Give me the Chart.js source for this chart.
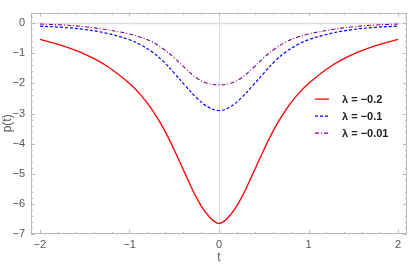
<!DOCTYPE html>
<html lang="en">
<head>
    <meta charset="UTF-8">
    <title>p(t)</title>
    <script src="https://cdnjs.cloudflare.com/ajax/libs/Chart.js/4.4.0/chart.umd.min.js"></script>
    <style>
        html, body {
            margin: 0;
            padding: 0;
            background-color: #fff;
        }
        .wrap {
            width: 409px;
            height: 265px;
        }
    </style>
</head>
<body>
    <div class="wrap"><canvas id="chart" width="409" height="265"></canvas></div>

    <script>
        // sample times
        const tValues = [-2, -1.75, -1.5, -1.25, -1, -0.875, -0.75, -0.625, -0.5, -0.375, -0.25, -0.125, 0,
                         0.125, 0.25, 0.375, 0.5, 0.625, 0.75, 0.875, 1, 1.25, 1.5, 1.75, 2];

        // p(t), one array per lambda
        const pLam02 = [-0.54, -0.75, -1.03, -1.43, -2.00, -2.38, -2.86, -3.47, -4.21, -5.02, -5.80, -6.37, -6.65,
                        -6.37, -5.80, -5.02, -4.21, -3.47, -2.86, -2.38, -2.00, -1.43, -1.03, -0.75, -0.54];
        const pLam01 = [-0.10, -0.14, -0.21, -0.34, -0.55, -0.72, -0.95, -1.26, -1.66, -2.08, -2.48, -2.78, -2.90,
                        -2.78, -2.48, -2.08, -1.66, -1.26, -0.95, -0.72, -0.55, -0.34, -0.21, -0.14, -0.10];
        const pLam001 = [-0.03, -0.06, -0.12, -0.22, -0.36, -0.47, -0.62, -0.85, -1.15, -1.50, -1.82, -2.00, -2.05,
                         -2.00, -1.82, -1.50, -1.15, -0.85, -0.62, -0.47, -0.36, -0.22, -0.12, -0.06, -0.03];

        const seriesLabels = ['λ = −0.2', 'λ = −0.1', 'λ = −0.01'];

        const xTicks = [-2, -1, 0, 1, 2];
        const yTicks = [-7, -6, -5, -4, -3, -2, -1, 0];

        const FRAME_COLOR = '#b8b8b8';
        const LABEL_COLOR = '#555';
        const FONT = '"Liberation Sans", Arial, sans-serif';

        function toPoints(ys) {
            return tValues.map((t, i) => ({ x: t, y: ys[i] }));
        }

        function fmt(v) {
            return v < 0 ? '\u2212' + Math.abs(v) : String(v);
        }

        // zero axes behind the curves, frame + ticks on top
        const framePlugin = {
            id: 'frame',
            beforeDatasetsDraw(chart) {
                const { ctx, chartArea: a, scales: { x, y } } = chart;
                ctx.save();
                ctx.strokeStyle = '#dedede';
                ctx.lineWidth = 1;
                const x0 = Math.round(x.getPixelForValue(0)) + 0.5;
                const y0 = Math.round(y.getPixelForValue(0)) + 0.5;
                ctx.beginPath();
                ctx.moveTo(x0, a.top);
                ctx.lineTo(x0, a.bottom);
                ctx.stroke();
                ctx.lineWidth = 1.6;
                ctx.beginPath();
                ctx.moveTo(a.left, y0);
                ctx.lineTo(a.right, y0);
                ctx.stroke();
                ctx.restore();
            },
            afterDatasetsDraw(chart) {
                const { ctx, chartArea: a, scales: { x, y } } = chart;
                ctx.save();
                ctx.strokeStyle = FRAME_COLOR;
                ctx.lineWidth = 1;
                ctx.strokeRect(Math.round(a.left) + 0.5, Math.round(a.top) + 0.5,
                               Math.round(a.right - a.left) - 1, Math.round(a.bottom - a.top) - 1);

                ctx.beginPath();
                // x ticks, every 0.2
                for (let k = -10; k <= 10; k++) {
                    const v = k / 5;
                    const px = Math.round(x.getPixelForValue(v)) + 0.5;
                    const len = (k % 5 === 0) ? 4 : 2;
                    ctx.moveTo(px, a.bottom);
                    ctx.lineTo(px, a.bottom - len);
                    ctx.moveTo(px, a.top);
                    ctx.lineTo(px, a.top + len);
                }
                // y ticks, every 0.2
                for (let k = -35; k <= 1; k++) {
                    const v = k / 5;
                    const py = Math.round(y.getPixelForValue(v)) + 0.5;
                    const len = (k % 5 === 0) ? 4 : 2;
                    ctx.moveTo(a.left, py);
                    ctx.lineTo(a.left + len, py);
                    ctx.moveTo(a.right, py);
                    ctx.lineTo(a.right - len, py);
                }
                ctx.stroke();
                ctx.restore();
            }
        };

        // legend inside the plot, lower right
        const legendPlugin = {
            id: 'inlineLegend',
            afterDraw(chart) {
                const { ctx, chartArea: a } = chart;
                ctx.save();
                chart.data.datasets.forEach((ds, i) => {
                    const yy = a.top + 86 + i * 17;
                    const x1 = a.right - 92;
                    ctx.strokeStyle = ds.borderColor;
                    ctx.lineWidth = ds.borderWidth;
                    ctx.setLineDash(ds.borderDash || []);
                    ctx.beginPath();
                    ctx.moveTo(x1, yy + 0.5);
                    ctx.lineTo(x1 + 14, yy + 0.5);
                    ctx.stroke();
                    ctx.setLineDash([]);
                    ctx.fillStyle = '#222';
                    ctx.font = 'bold 11px ' + FONT;
                    ctx.textBaseline = 'middle';
                    ctx.textAlign = 'left';
                    ctx.fillText(ds.label, x1 + 27, yy + 1);
                });
                ctx.restore();
            }
        };

        const ctx = document.getElementById('chart').getContext('2d');
        new Chart(ctx, {
            type: 'line',
            data: {
                datasets: [
                    {
                        label: seriesLabels[0],
                        data: toPoints(pLam02),
                        borderColor: '#ff0000',
                        borderWidth: 1.3,
                        pointRadius: 0,
                        fill: false,
                        tension: 0.4
                    },
                    {
                        label: seriesLabels[1],
                        data: toPoints(pLam01),
                        borderColor: '#0000ff',
                        borderWidth: 1.2,
                        borderDash: [3, 2],
                        pointRadius: 0,
                        fill: false,
                        tension: 0.4
                    },
                    {
                        label: seriesLabels[2],
                        data: toPoints(pLam001),
                        borderColor: '#800080',
                        borderWidth: 1.1,
                        borderDash: [4, 2, 1, 2],
                        pointRadius: 0,
                        fill: false,
                        tension: 0.4
                    }
                ]
            },
            options: {
                responsive: false,
                animation: false,
                devicePixelRatio: 1,
                layout: { padding: { top: 3, right: 2, left: 0, bottom: 0 } },
                plugins: {
                    legend: { display: false },
                    tooltip: { enabled: false }
                },
                scales: {
                    x: {
                        type: 'linear',
                        min: -2.1,
                        max: 2.1,
                        afterBuildTicks: (s) => { s.ticks = xTicks.map(v => ({ value: v })); },
                        afterFit: (s) => { s.height = 31; },
                        grid: { display: false, drawTicks: false },
                        border: { display: false },
                        ticks: {
                            color: LABEL_COLOR,
                            font: { family: FONT, size: 11 },
                            padding: 4,
                            maxRotation: 0,
                            callback: (v) => fmt(v)
                        },
                        title: {
                            display: true,
                            text: 't',
                            color: LABEL_COLOR,
                            font: { family: FONT, size: 12 },
                            padding: { top: 0, bottom: 0 }
                        }
                    },
                    y: {
                        type: 'linear',
                        min: -7,
                        max: 0.35,
                        afterBuildTicks: (s) => { s.ticks = yTicks.map(v => ({ value: v })); },
                        afterFit: (s) => { s.width = 31; },
                        grid: { display: false, drawTicks: false },
                        border: { display: false },
                        ticks: {
                            color: LABEL_COLOR,
                            font: { family: FONT, size: 11 },
                            padding: 6,
                            callback: (v) => fmt(v)
                        },
                        title: {
                            display: true,
                            text: 'p(t)',
                            color: LABEL_COLOR,
                            font: { family: FONT, size: 12 },
                            padding: { top: 0, bottom: 0 }
                        }
                    }
                }
            },
            plugins: [framePlugin, legendPlugin]
        });
    </script>
</body>
</html>
